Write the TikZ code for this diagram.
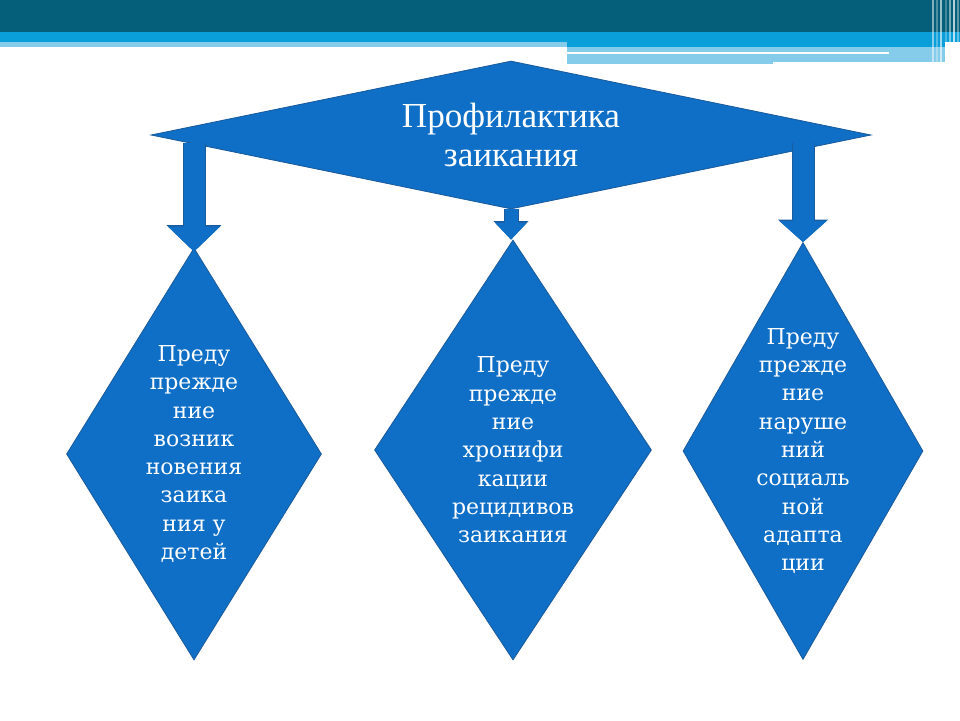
\documentclass[tikz,border=0pt]{standalone}
\usepackage{fontspec}
\setmainfont{Liberation Serif}
\newfontfamily\rautenfont{DejaVu Serif}
\usepackage{tikz}
\usetikzlibrary{calc}
\usetikzlibrary{shapes.geometric,arrows.meta}

\definecolor{balken}{HTML}{055F7A}
\definecolor{hellblau}{HTML}{0B9FDA}
\definecolor{blass}{HTML}{84CCEA}
\definecolor{rautenblau}{HTML}{0F6FC6}
\definecolor{rand}{HTML}{1A5C9E}

\tikzset{
  raute/.style={diamond,fill=rautenblau,draw=rand,line width=0.5pt,inner sep=0pt},
  rtext/.style={text=white,align=center,font=\rautenfont\fontsize{12.5}{16.1}\selectfont},
  dick/.style={draw=rautenblau,line width=0.42cm,-{Triangle[length=0.5cm,width=1.04cm,line width=0pt]},
    preaction={draw=rand,line width=0.46cm,-{Triangle[length=0.53cm,width=1.1cm,line width=0pt]}}},
  dickr/.style={draw=rautenblau,line width=0.42cm,-{Triangle[length=0.42cm,width=0.94cm,line width=0pt]},
    preaction={draw=rand,line width=0.46cm,-{Triangle[length=0.45cm,width=1.0cm,line width=0pt]}}},
  duenn/.style={draw=rautenblau,line width=0.26cm,-{Triangle[length=0.34cm,width=0.64cm,line width=0pt]},
    preaction={draw=rand,line width=0.3cm,-{Triangle[length=0.37cm,width=0.7cm,line width=0pt]}}}
}

\begin{document}
\begin{tikzpicture}[x=0.02cm,y=-0.02cm]
\useasboundingbox (0,0) rectangle (960,720);

\fill[balken] (0,0) rectangle (960,32);								% Balken oben
\fill[hellblau] (0,32) rectangle (960,42);
\fill[blass] (0,42) rectangle (567,47);
\fill[hellblau] (567,42) rectangle (945,47);
\fill[blass] (567,47) rectangle (773,64);
\fill[blass] (773,47) rectangle (945,62);
\fill[white] (567,52) rectangle (889,54);							% weisse Linie
\foreach \x/\o in {932/0.5,936/0.3,940/0.6,945/0.25,949/0.45,953/0.7,957/0.35}
  \fill[white,opacity=\o] (\x,0) rectangle +(1.6,63);				% Streifen rechts

\node[raute,minimum width=14.4cm,minimum height=2.96cm] (kopf) at (511,135) {};	% grosse Raute
\node[text=white,align=center,font=\fontsize{20}{22}\selectfont] (titel) at (kopf) {Профилактика\\заикания};

\node[raute,minimum width=5.1cm,minimum height=8.24cm] (links) at (194,454) {};	% Raute 1
\node[raute,minimum width=5.54cm,minimum height=8.4cm] (mitte) at (513,450) {};	% Raute 2
\node[raute,minimum width=4.8cm,minimum height=8.34cm] (rechts) at (803,451) {};	% Raute 3

\node[rtext] (tlinks) at (links) {Преду\\прежде\\ние\\возник\\новения\\заика\\ния у\\детей};
\node[rtext] (tmitte) at (mitte) {Преду\\прежде\\ние\\хронифи\\кации\\рецидивов\\заикания};
\node[rtext] (trechts) at (rechts) {Преду\\прежде\\ние\\наруше\\ний\\социаль\\ной\\адапта\\ции};

\coordinate (ansatz) at ($(kopf.west)!0.114!(kopf.south)$);			% Beginn der Pfeile
\draw[dick,shorten >=-0.08cm] (links.north |- ansatz) -- (links.north);
\draw[duenn] (kopf.south) -- (kopf.south |- mitte.north);
\draw[dickr] (rechts.north |- ansatz) -- (rechts.north);

\end{tikzpicture}
\end{document}
